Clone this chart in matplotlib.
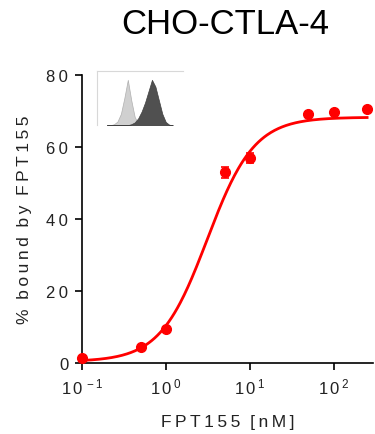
import numpy as np
import matplotlib.pyplot as plt

# measured points
conc = [0.1, 0.5, 1, 5, 10, 50, 100, 250]
bound = [1.5, 4.4, 9.4, 53.0, 57.0, 69.2, 69.7, 70.5]
err = [0.3, 0.4, 0.5, 1.5, 1.5, 0.6, 0.6, 0.6]

# fitted curve (4PL) parameters
bottom, top, ec50, hill = 0.4, 68.3, 3.1, 1.55

# inset histogram shapes (bin heights, arbitrary units)
hist_bins = list(range(20))
hist_light = [0, 0, 0.02, 0.08, 0.25, 0.6, 1.0, 0.55, 0.18, 0.04, 0, 0, 0, 0, 0, 0, 0, 0, 0, 0]
hist_dark = [0, 0, 0, 0, 0, 0, 0, 0.02, 0.06, 0.15, 0.3, 0.5, 0.75, 1.0, 0.85, 0.55, 0.25, 0.07, 0.01, 0]

yticks = [0, 20, 40, 60, 80]
xticks = [0.1, 1, 10, 100]
xtick_exp = ['-1', '0', '1', '2']

plt.rcParams['font.family'] = ['Liberation Sans', 'DejaVu Sans']
plt.rcParams['mathtext.fontset'] = 'custom'
plt.rcParams['mathtext.rm'] = 'Liberation Sans'

TS = '\u2009'  # thin space for letter spacing


def spaced(*words):
    return '  '.join(TS.join(w) for w in words)


fig = plt.figure(figsize=(3.75, 4.35), dpi=100)
ax = fig.add_axes([0.219, 0.163, 0.776, 0.662])

xs = np.logspace(np.log10(conc[0]), np.log10(conc[-1]), 300)
ys = bottom + (top - bottom) / (1 + (ec50 / xs) ** hill)
ax.plot(xs, ys, color='#ff0000', lw=2, zorder=2)
ax.errorbar(conc, bound, yerr=err, fmt='o', color='#ff0000', ms=7,
            capsize=3, elinewidth=1.2, capthick=1.2, zorder=3, clip_on=False)

ax.set_xscale('log')
ax.set_xlim(0.1, 295)
ax.set_ylim(0, 80)
ax.set_yticks(yticks)
ax.set_yticklabels([spaced(str(v)) for v in yticks])
ax.set_xticks(xticks)
ax.set_xticklabels([r'$\mathregular{1\,0^{\,' + e + '}}$' for e in xtick_exp])
ax.xaxis.set_minor_locator(plt.NullLocator())
ax.spines['top'].set_visible(False)
ax.spines['right'].set_visible(False)
ax.spines['left'].set_linewidth(1.2)
ax.spines['bottom'].set_linewidth(1.2)
ax.tick_params(direction='out', length=5, width=1.2, labelsize=12, pad=5,
               labelcolor='#222222')
ax.tick_params(axis='x', pad=5)
ax.set_xlabel(spaced('FPT155', '[nM]'), fontsize=12.5, labelpad=12,
              color='#222222')
ax.set_ylabel(spaced('%', 'bound', 'by', 'FPT155'),
              fontsize=12.5, labelpad=10, color='#222222')
fig.text(0.6, 0.943, 'CHO-CTLA-4', ha='center', va='center', fontsize=25)

# flow histogram inset
ins = fig.add_axes([0.258, 0.71, 0.23, 0.125])
ins.fill_between(hist_bins, hist_light, color='#d0d0d0', lw=0.5, edgecolor='#b0b0b0')
ins.fill_between(hist_bins, hist_dark, color='#505050', lw=0.5, edgecolor='#404040')
ins.set_xlim(-3, 22)
ins.set_ylim(0, 1.2)
ins.set_xticks([])
ins.set_yticks([])
for s in ['right', 'bottom']:
    ins.spines[s].set_visible(False)
for s in ['top', 'left']:
    ins.spines[s].set_color('#d8d8d8')
    ins.spines[s].set_linewidth(0.8)
ins.patch.set_alpha(0)

fig.savefig('out.png', dpi=100)
